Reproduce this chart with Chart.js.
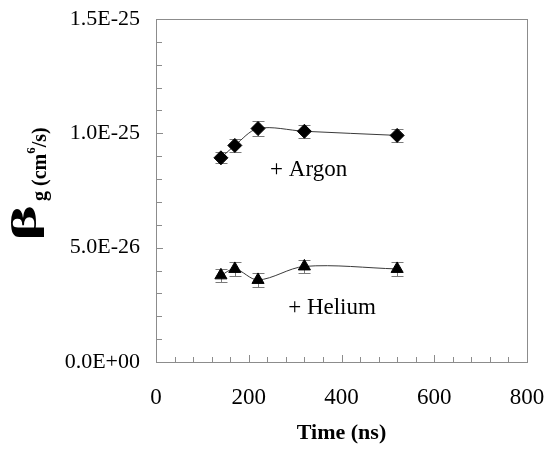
<!DOCTYPE html>
<html>
<head>
<meta charset="utf-8">
<script src="https://cdn.jsdelivr.net/npm/chart.js@4/dist/chart.umd.min.js"></script>
<style>
  html, body { margin: 0; padding: 0; background: #fff; }
  #wrap { width: 548px; height: 451px; position: relative; }
</style>
</head>
<body>
<div id="wrap"><canvas id="c" width="548" height="451"></canvas></div>
<script>
// ---- Data ----
const timeNs = [140, 170, 220, 320, 520];
const argonBeta = [8.93e-26, 9.47e-26, 1.021e-25, 1.009e-25, 9.91e-26];
const argonErr  = [2.4e-27, 2.8e-27, 3.1e-27, 2.8e-27, 2.8e-27];
const heliumBeta = [3.79e-26, 4.07e-26, 3.59e-26, 4.18e-26, 4.07e-26];
const heliumErr  = [2.9e-27, 2.9e-27, 2.9e-27, 2.9e-27, 2.9e-27];
const seriesLabels = ['+ Argon', '+ Helium'];
const labelAnchors = [[246, 8.15e-26], [285, 2.11e-26]]; // data coords of the text labels
const xTickValues = [0, 200, 400, 600, 800];
const yTickValues = [0, 5e-26, 1e-25, 1.5e-25];
const xMinorStep = 40;
const yMinorStep = 1e-26;

const FONT = '"Liberation Serif", "Times New Roman", serif';
const AXIS_GREY = '#8c8c8c';

function fmtExp(v) {
  const s = Number(v).toExponential(1);
  const [m, e] = s.split('e');
  const sign = e[0] === '-' ? '-' : '+';
  const digits = e.replace(/[+-]/, '').padStart(2, '0');
  return m + 'E' + sign + digits;
}

const toPts = (xs, ys) => xs.map((x, i) => ({ x: x, y: ys[i] }));

const frameAndTicks = {
  id: 'frameAndTicks',
  afterDraw(chart) {
    const { ctx, chartArea: a, scales: { x, y } } = chart;
    ctx.save();
    ctx.strokeStyle = AXIS_GREY;
    ctx.lineWidth = 1;
    ctx.strokeRect(Math.round(a.left) + 0.5, Math.round(a.top) + 0.5,
                   Math.round(a.right - a.left), Math.round(a.bottom - a.top));
    for (let v = x.min; v <= x.max + 1e-9; v += xMinorStep) {
      const px = Math.round(x.getPixelForValue(v)) + 0.5;
      const major = xTickValues.includes(v);
      ctx.beginPath();
      ctx.moveTo(px, a.bottom);
      ctx.lineTo(px, a.bottom - (major ? 7 : 5));
      ctx.stroke();
    }
    const n = Math.round((y.max - y.min) / yMinorStep);
    for (let i = 0; i <= n; i++) {
      const v = y.min + i * yMinorStep;
      const py = Math.round(y.getPixelForValue(v)) + 0.5;
      const major = i % 5 === 0;
      ctx.beginPath();
      ctx.moveTo(a.left, py);
      ctx.lineTo(a.left + (major ? 7 : 6), py);
      ctx.stroke();
    }
    ctx.restore();
  }
};

const errorBars = {
  id: 'errorBars',
  beforeDatasetsDraw(chart) {
    const { ctx, scales: { x, y } } = chart;
    const errs = [argonErr, heliumErr];
    ctx.save();
    ctx.strokeStyle = '#7a7a7a';
    ctx.lineWidth = 1;
    chart.data.datasets.forEach((ds, di) => {
      ds.data.forEach((p, i) => {
        const px = Math.round(x.getPixelForValue(p.x)) + 0.5;
        const top = Math.round(y.getPixelForValue(p.y + errs[di][i])) + 0.5;
        const bot = Math.round(y.getPixelForValue(p.y - errs[di][i])) + 0.5;
        ctx.beginPath();
        ctx.moveTo(px, top); ctx.lineTo(px, bot);
        ctx.moveTo(px - 6, top); ctx.lineTo(px + 6, top);
        ctx.moveTo(px - 6, bot); ctx.lineTo(px + 6, bot);
        ctx.stroke();
      });
    });
    ctx.restore();
  }
};

const textLabels = {
  id: 'textLabels',
  afterDraw(chart) {
    const { ctx, scales: { x, y } } = chart;
    ctx.save();
    ctx.fillStyle = '#000';
    ctx.font = '23px ' + FONT;
    ctx.textBaseline = 'alphabetic';
    ctx.textAlign = 'left';
    seriesLabels.forEach((t, i) => {
      ctx.fillText(t, x.getPixelForValue(labelAnchors[i][0]), y.getPixelForValue(labelAnchors[i][1]));
    });
    // Y axis title: β_g (cm^6/s), rotated
    ctx.translate(36, 241);
    ctx.rotate(-Math.PI / 2);
    ctx.font = 'bold 36px ' + FONT;
    const bw = ctx.measureText('β').width;
    const stretch = 36 / bw;
    ctx.save();
    ctx.scale(stretch, 1);
    ctx.fillText('β', 0, 0);
    ctx.restore();
    let cx = 40;
    ctx.font = 'bold 20px ' + FONT;
    const sub = 'g (cm';
    ctx.fillText(sub, cx, 10);
    cx += ctx.measureText(sub).width;
    ctx.font = 'bold 13px ' + FONT;
    ctx.fillText('6', cx, -1);
    cx += ctx.measureText('6').width;
    ctx.font = 'bold 20px ' + FONT;
    ctx.fillText('/s)', cx, 10);
    ctx.restore();
  }
};

function zeroPad(s) { s.paddingTop = 0; s.paddingBottom = 0; s.paddingLeft = 0; s.paddingRight = 0; }

new Chart(document.getElementById('c'), {
  type: 'scatter',
  data: {
    datasets: [
      {
        label: 'Argon',
        data: toPts(timeNs, argonBeta),
        showLine: true,
        tension: 0.33,
        borderColor: '#3a3a3a',
        borderWidth: 1,
        pointStyle: 'rectRot',
        pointRadius: 7,
        pointBackgroundColor: '#000',
        pointBorderColor: '#000',
        pointBorderWidth: 1
      },
      {
        label: 'Helium',
        data: toPts(timeNs, heliumBeta),
        showLine: true,
        tension: 0.33,
        borderColor: '#3a3a3a',
        borderWidth: 1,
        pointStyle: 'triangle',
        pointRadius: 7,
        pointBackgroundColor: '#000',
        pointBorderColor: '#000',
        pointBorderWidth: 1
      }
    ]
  },
  options: {
    responsive: false,
    animation: false,
    layout: { padding: { top: 19, right: 21, left: 0, bottom: 0 } },
    plugins: { legend: { display: false }, tooltip: { enabled: false } },
    scales: {
      x: {
        type: 'linear',
        min: 0, max: 800,
        grid: { display: false, drawTicks: false },
        border: { display: false },
        afterBuildTicks(s) { s.ticks = xTickValues.map(v => ({ value: v })); },
        ticks: { color: '#000', font: { family: FONT, size: 23 }, padding: 22, maxRotation: 0 },
        title: { display: true, text: 'Time (ns)', color: '#000', font: { family: FONT, size: 22, weight: 'bold' }, padding: { top: 0, bottom: 4 } },
        afterFit(s) { s.height = 89; zeroPad(s); }
      },
      y: {
        type: 'linear',
        min: 0, max: 1.5e-25,
        grid: { display: false, drawTicks: false },
        border: { display: false },
        afterBuildTicks(s) { s.ticks = yTickValues.map(v => ({ value: v })); },
        ticks: { color: '#000', font: { family: FONT, size: 22 }, padding: 16, callback: v => fmtExp(v) },
        afterFit(s) { s.width = 156; zeroPad(s); }
      }
    }
  },
  plugins: [errorBars, frameAndTicks, textLabels]
});
</script>
</body>
</html>
